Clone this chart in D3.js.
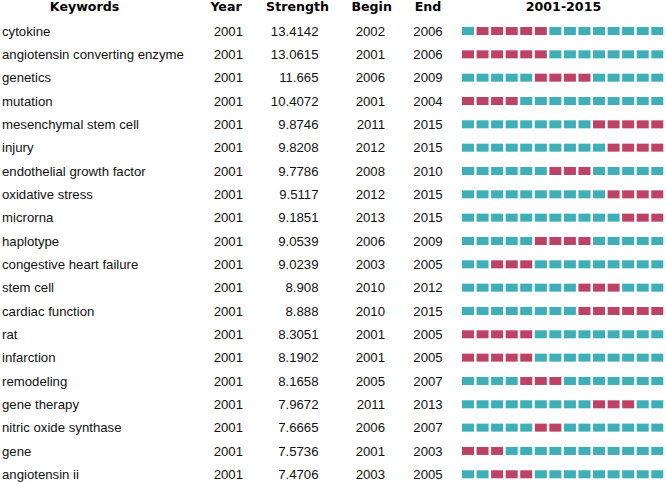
<!DOCTYPE html>
<html>
<head>
<meta charset="utf-8">
<script src="https://cdn.jsdelivr.net/npm/d3@7"></script>
<style>
  html, body { margin: 0; padding: 0; background: #fff; }
  svg { display: block; }
</style>
</head>
<body>
<svg id="chart" width="666" height="482"></svg>
<script>
const keywords = ["cytokine","angiotensin converting enzyme","genetics","mutation","mesenchymal stem cell","injury","endothelial growth factor","oxidative stress","microrna","haplotype","congestive heart failure","stem cell","cardiac function","rat","infarction","remodeling","gene therapy","nitric oxide synthase","gene","angiotensin ii"];
const years = [2001,2001,2001,2001,2001,2001,2001,2001,2001,2001,2001,2001,2001,2001,2001,2001,2001,2001,2001,2001];
const strengths = ["13.4142","13.0615","11.665","10.4072","9.8746","9.8208","9.7786","9.5117","9.1851","9.0539","9.0239","8.908","8.888","8.3051","8.1902","8.1658","7.9672","7.6665","7.5736","7.4706"];
const begins = [2002,2001,2006,2001,2011,2012,2008,2012,2013,2006,2003,2010,2010,2001,2001,2005,2011,2006,2001,2003];
const ends = [2006,2006,2009,2004,2015,2015,2010,2015,2015,2009,2005,2012,2015,2005,2005,2007,2013,2007,2003,2005];
// burst cells as drawn (index of first and last red slice in the 14-slice strip)
const burstFirstCell = [1,0,5,0,9,10,6,10,11,5,2,8,8,0,0,4,9,5,0,2];
const burstLastCell  = [5,5,8,3,13,13,8,13,13,8,4,10,13,4,4,6,11,6,2,4];
const sliceCount = 14;
const headers = ["Keywords","Year","Strength","Begin","End","2001-2015"];

const teal = "#3eaeb7";
const crimson = "#bd4266";

const svg = d3.select("#chart");
const rowIdx = d3.range(keywords.length);

const y = d3.scaleBand().domain(rowIdx).range([19.35, 19.35 + 23.33 * keywords.length]).padding(0);
const x = d3.scaleLinear().domain([0, sliceCount]).range([462, 462 + 14.56 * sliceCount]);
const cellW = 12, cellH = 8;

const bodyFont = "'Liberation Sans', Arial, sans-serif";
const headFont = "'DejaVu Sans', sans-serif";

// headers
const headerX = [84.5, 226, 297.5, 371.7, 428, 563.5];
svg.selectAll("text.head").data(headers).enter().append("text")
  .attr("class","head")
  .attr("x",(d,i)=>headerX[i]).attr("y",11)
  .attr("text-anchor","middle")
  .style("font-family",headFont).style("font-weight","bold").style("font-size","12.6px")
  .attr("fill","#000")
  .text(d=>d);

const rows = svg.selectAll("g.row").data(rowIdx).enter().append("g")
  .attr("class","row")
  .attr("transform",i=>`translate(0,${y(i) + y.bandwidth()/2})`);

function col(sel, xPos, anchor, fn){
  sel.append("text").attr("x",xPos).attr("y",4.7)
    .attr("text-anchor",anchor)
    .style("font-family",bodyFont).style("font-size","13.2px")
    .attr("fill","#111")
    .text(fn);
}
col(rows, 2, "start", i=>keywords[i]);
col(rows, 243, "end", i=>years[i]);
col(rows, 318.5, "end", i=>strengths[i]);
col(rows, 385, "end", i=>begins[i]);
col(rows, 442.7, "end", i=>ends[i]);

rows.selectAll("rect").data(i=>d3.range(sliceCount).map(c=>({c, red: c>=burstFirstCell[i] && c<=burstLastCell[i]})))
  .enter().append("rect")
  .attr("x",d=>x(d.c)).attr("y",-cellH/2)
  .attr("width",cellW).attr("height",cellH)
  .attr("fill",d=>d.red?crimson:teal);
</script>
</body>
</html>
